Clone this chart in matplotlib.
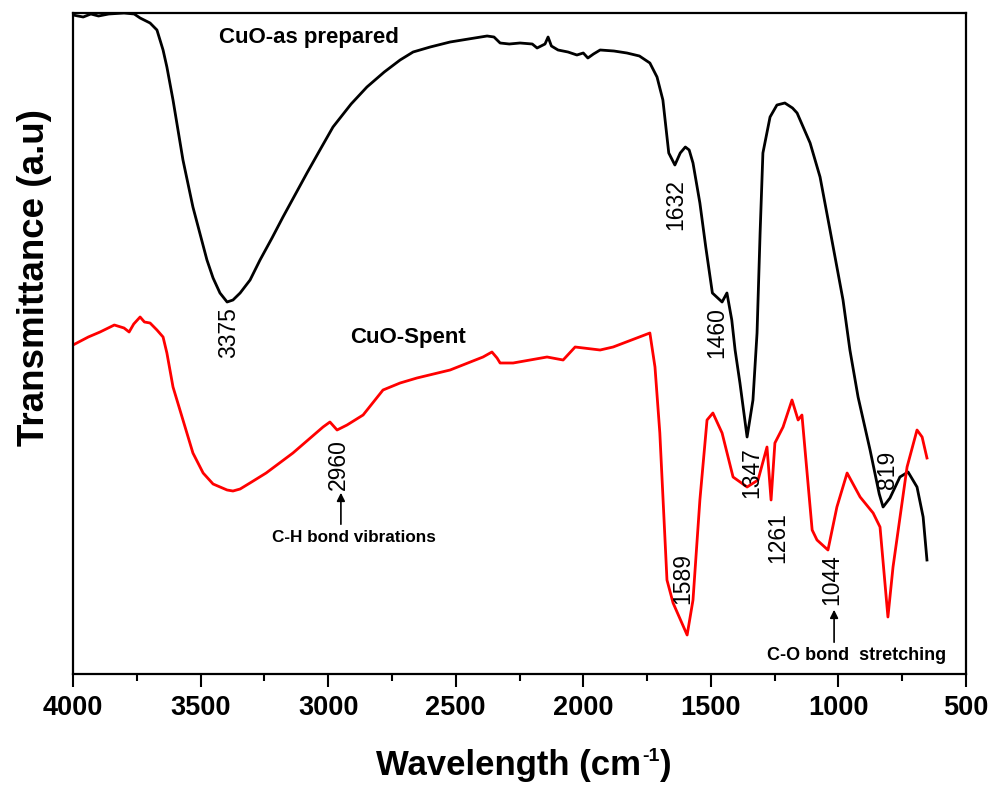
import matplotlib
matplotlib.use("Agg")
import matplotlib.pyplot as plt
from matplotlib.ticker import MultipleLocator, NullLocator

FONT = "Liberation Sans"

# CuO-as prepared (wavenumber cm^-1, transmittance a.u.)
w_prep = [4000, 3960, 3930, 3900, 3860, 3800, 3760, 3737, 3698, 3671, 3647, 3632, 3608, 3569,
          3530, 3475, 3451, 3424, 3396, 3373, 3345, 3306, 3267, 3220, 3177, 3130, 3083, 3030,
          2981, 2910, 2848, 2780, 2718, 2667, 2600, 2522, 2450, 2377, 2350, 2326, 2290, 2248,
          2200, 2181, 2150, 2138, 2125, 2099, 2060, 2025, 2000, 1982, 1960, 1934, 1880, 1829,
          1780, 1739, 1711, 1688, 1665, 1641, 1620, 1600, 1585, 1570, 1543, 1520, 1494, 1456,
          1437, 1418, 1405, 1386, 1358, 1335, 1319, 1307, 1296, 1268, 1241, 1210, 1180, 1162,
          1111, 1072, 1033, 1006, 982, 955, 923, 876, 840, 825, 810, 798, 759, 727, 692, 668, 653]
t_prep = [659, 657, 660, 658, 660, 661, 660, 656, 651, 644, 624, 607, 574, 514,
          467, 414, 396, 381, 372, 374, 381, 394, 414, 436, 457, 479, 501, 525,
          547, 570, 587, 602, 614, 622, 627, 632, 635, 638, 637, 631, 630, 631,
          630, 626, 630, 637, 628, 624, 622, 619, 621, 616, 620, 624, 623, 621,
          618, 611, 597, 574, 521, 509, 521, 527, 524, 511, 471, 427, 381, 372,
          381, 354, 324, 291, 237, 274, 341, 441, 521, 557, 569, 571, 566, 561,
          531, 497, 444, 407, 374, 324, 277, 224, 180, 167, 172, 176, 197, 202, 187, 157, 114]

# CuO-Spent
w_spent = [4000, 3940, 3894, 3838, 3800, 3780, 3762, 3737, 3720, 3698, 3671, 3647, 3632, 3608,
           3569, 3530, 3490, 3451, 3396, 3373, 3345, 3300, 3243, 3138, 3020, 2993, 2965, 2926,
           2863, 2785, 2718, 2652, 2522, 2393, 2358, 2338, 2326, 2275, 2142, 2079, 2032, 1934,
           1883, 1739, 1719, 1700, 1672, 1648, 1593, 1570, 1543, 1515, 1492, 1456, 1413, 1358,
           1315, 1280, 1264, 1249, 1217, 1182, 1158, 1143, 1103, 1084, 1041, 1006, 966, 915,
           864, 837, 806, 786, 731, 692, 672, 653]
t_spent = [329, 337, 342, 349, 346, 342, 350, 357, 352, 351, 344, 337, 321, 287,
           254, 221, 201, 190, 184, 183, 185, 192, 201, 221, 247, 252, 244, 249,
           259, 284, 291, 296, 304, 317, 322, 316, 311, 311, 317, 314, 327, 324,
           327, 341, 307, 241, 94, 71, 39, 74, 174, 254, 261, 241, 197, 187,
           194, 227, 174, 231, 247, 274, 254, 259, 144, 134, 124, 167, 201, 177,
           161, 147, 57, 107, 207, 244, 237, 216]

peak_labels = ["3375", "1632", "1460", "1347", "819", "1589", "1261", "1044", "2960"]
peak_x = [3390, 1637, 1476, 1339, 806, 1609, 1237, 1025, 2961]
peak_y = [341, 469, 341, 201, 204, 96, 136, 94, 209]

fig = plt.figure(figsize=(9.92, 7.91), dpi=100)
ax = fig.add_axes([73 / 992, 1 - 674 / 791, (966 - 73) / 992, (674 - 13) / 791])

ax.plot(w_prep, t_prep, color="black", lw=2.0, solid_joinstyle="round")
ax.plot(w_spent, t_spent, color="#ff0000", lw=2.0, solid_joinstyle="round")

ax.set_xlim(4000, 500)
ax.set_ylim(0, 661)
ax.xaxis.set_major_locator(MultipleLocator(500))
ax.xaxis.set_minor_locator(MultipleLocator(250))
ax.yaxis.set_major_locator(NullLocator())
ax.tick_params(axis="x", which="major", direction="out", length=9, width=1.5, pad=6)
ax.tick_params(axis="x", which="minor", direction="out", length=5, width=1.5)
for s in ax.spines.values():
    s.set_linewidth(1.6)
for lab in ax.get_xticklabels():
    lab.set_fontfamily(FONT)
    lab.set_fontweight("bold")
    lab.set_fontsize(19.5)

ax.text(3075, 636, "CuO-as prepared", fontsize=16, fontweight="bold",
        fontfamily=FONT, ha="center", va="center")
ax.text(2687, 336, "CuO-Spent", fontsize=16, fontweight="bold",
        fontfamily=FONT, ha="center", va="center")

for lab, x, y in zip(peak_labels, peak_x, peak_y):
    ax.text(x, y, lab, rotation=90, fontsize=16.5, fontfamily=FONT,
            ha="center", va="center")

ax.annotate("", xy=(2950, 184), xytext=(2950, 147),
            arrowprops=dict(arrowstyle="-|>", color="black", lw=1.2, mutation_scale=12))
ax.text(2899, 136, "C-H bond vibrations", fontsize=12.3, fontweight="bold",
        fontfamily=FONT, ha="center", va="center")
ax.annotate("", xy=(1017, 67), xytext=(1017, 29),
            arrowprops=dict(arrowstyle="-|>", color="black", lw=1.2, mutation_scale=12))
ax.text(927, 19, "C-O bond  stretching", fontsize=13, fontweight="bold",
        fontfamily=FONT, ha="center", va="center")

fig.text(35 / 992, 1 - 278 / 791, "Transmittance (a.u)", rotation=90, fontsize=26.5,
         fontweight="bold", fontfamily=FONT, ha="center", va="center")

t1 = fig.text(376 / 992, 1 - 782 / 791, "Wavelength (cm", fontsize=25,
              fontweight="bold", fontfamily=FONT, ha="left", va="bottom")
t2 = fig.text(0, 0, "-1", fontsize=14, fontweight="bold", fontfamily=FONT,
              ha="left", va="top")
fig.canvas.draw()
r = fig.canvas.get_renderer()
bb = t1.get_window_extent(r)
W, H = fig.bbox.width, fig.bbox.height
t2.set_position(((bb.x1 + 1) / W, (bb.y1 + 1) / H))
fig.canvas.draw()
bb2 = t2.get_window_extent(r)
fig.text((bb2.x1 + 1) / W, bb.y0 / H, ")", fontsize=25, fontweight="bold",
         fontfamily=FONT, ha="left", va="bottom")

fig.savefig("out.png", dpi=100)
